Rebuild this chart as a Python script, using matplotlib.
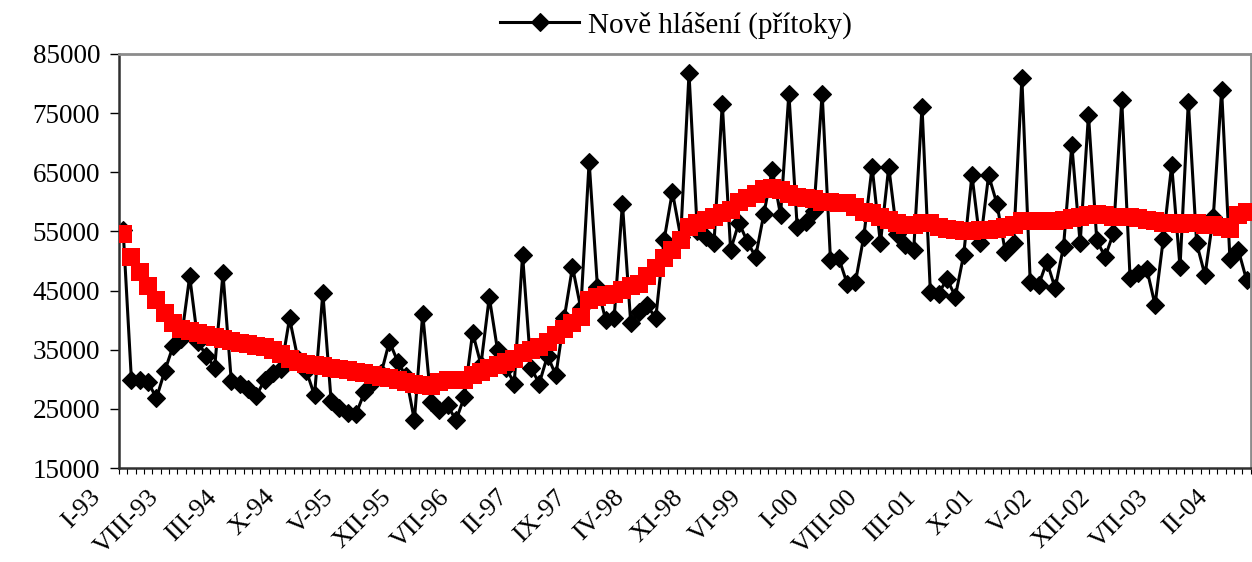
import matplotlib.pyplot as plt
import matplotlib.transforms as mtransforms
import numpy as np

## DATA ##

# monthly new registrations (black) and trend (red), I-93 .. IV-04
new_reports = [
    55300, 29900, 29900, 29600, 26800, 31400, 35600, 36900, 47400, 36300,
    34000, 32000, 47900, 29700, 29300, 28300, 27200, 29900, 31000, 31800,
    40300, 33500, 31500, 27300, 44600, 26300, 25100, 24300, 24200, 27800,
    29500, 31000, 36400, 33000, 30500, 23100, 41100, 26200, 24800, 25600,
    23100, 27000, 37900, 32500, 43900, 34900, 32000, 29300, 51000, 32000,
    29300, 34000, 30700, 40300, 49000, 42000, 66800, 45600, 40000, 40300,
    59700, 39500, 41400, 42500, 40300, 53500, 61700, 54100, 81700, 55000,
    54000, 53000, 76600, 51900, 56500, 53300, 50700, 58000, 65400, 57800,
    78300, 55800, 56600, 58500, 78300, 50200, 50500, 46200, 46500, 54100,
    65900, 53000, 65900, 54500, 52700, 51900, 76100, 44800, 44500, 47000,
    44000, 51000, 64500, 53000, 64500, 59700, 51600, 53000, 80900, 46500,
    45900, 49900, 45400, 52400, 69600, 53000, 74700, 53500, 50700, 54700,
    77200, 47100, 47900, 48700, 42600, 53800, 66200, 49000, 76900, 53000,
    47600, 57500, 78900, 50300, 51900, 46800,
]

trend = [
    54600, 50700, 48200, 45700, 43400, 41200, 39500, 38600, 38200, 37800,
    37500, 37200, 36900, 36500, 36200, 36000, 35700, 35400, 35000, 34300,
    33500, 33000, 32600, 32400, 32200, 32000, 31700, 31600, 31300, 31000,
    30700, 30400, 30200, 29900, 29600, 29300, 29000, 28800, 29600, 29900,
    29900, 29900, 30700, 31300, 31900, 32400, 33000, 33500, 34400, 35000,
    35400, 36400, 37500, 38500, 39500, 40600, 43400, 44000, 44300, 44500,
    45100, 45700, 46200, 47400, 48800, 50500, 51900, 53600, 55800, 56400,
    56900, 57500, 58100, 58600, 60000, 60600, 61400, 62100, 62300, 62000,
    61400, 60900, 60600, 60500, 60000, 60000, 59800, 59800, 59200, 58300,
    58100, 57500, 56900, 56400, 56100, 56100, 56400, 56400, 55800, 55500,
    55200, 55100, 55100, 55200, 55200, 55500, 55800, 56100, 56700, 56800,
    56700, 56700, 56800, 56900, 57200, 57500, 57800, 57900, 57800, 57500,
    57500, 57400, 57200, 56900, 56700, 56500, 56400, 56300, 56400, 56400,
    56100, 56100, 55800, 55500, 57800, 58300,
]

tick_labels = ['I-93', 'VIII-93', 'III-94', 'X-94', 'V-95', 'XII-95', 'VII-96',
               'II-97', 'IX-97', 'IV-98', 'XI-98', 'VI-99', 'I-00', 'VIII-00',
               'III-01', 'X-01', 'V-02', 'XII-02', 'VII-03', 'II-04']
label_step = 7

series_name = 'Nově hlášení (přítoky)'

## PLOT ##

plt.rcParams['font.family'] = ['Liberation Serif', 'DejaVu Serif']

fig = plt.figure(figsize=(12.52, 5.62), dpi=100)
ax = fig.add_axes([0.095, 0.167, 0.904, 0.737])

x = np.arange(len(new_reports))

ax.plot(x, trend, color='red', linestyle='none', marker='s', markersize=13.5,
        markeredgewidth=0, label='_nolegend_', zorder=3)
ax.plot(x, new_reports, color='black', linewidth=2.2, marker='D', markersize=9,
        markeredgewidth=0.8, label=series_name, zorder=2)

ax.set_xlim(-0.5, len(x) - 0.5)
ax.set_ylim(15000, 85000)
ax.set_yticks(range(15000, 85001, 10000))
ax.tick_params(axis='y', labelsize=19.5, length=6.5, width=1, pad=7)

# category ticks between months, labels every 7 months
ax.set_xticks(np.arange(0, len(x), label_step))
ax.set_xticks(np.arange(-0.5, len(x), 1), minor=True)
ax.tick_params(axis='x', which='major', length=0)
ax.tick_params(axis='x', which='minor', length=4, width=0.8)
labels = ax.set_xticklabels(tick_labels, fontsize=19, rotation=45,
                            ha='right', va='top', rotation_mode='anchor')
# shift the rotated labels down-left like the original
offset = mtransforms.ScaledTranslation(-34 / 100, -13 / 100, fig.dpi_scale_trans)
for lab in labels:
    lab.set_transform(lab.get_transform() + offset)

for side in ['top', 'right']:
    ax.spines[side].set_color('#8c8c8c')
    ax.spines[side].set_linewidth(2)
ax.spines['left'].set_color('#303030')
ax.spines['left'].set_linewidth(1.8)
ax.spines['bottom'].set_color('#303030')
ax.spines['bottom'].set_linewidth(1.8)

fig.legend(loc='center', bbox_to_anchor=(0.54, 0.955), frameon=False,
           fontsize=21, handlelength=2.7, handletextpad=0.3)

plt.savefig('out.png', dpi=100)
